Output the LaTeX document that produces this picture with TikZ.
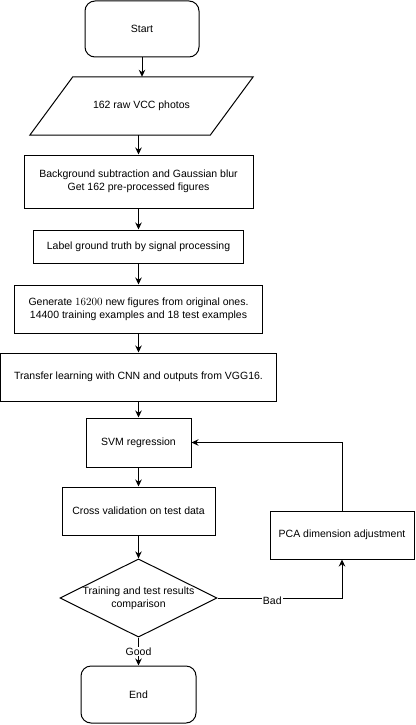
\documentclass[tikz,border=0pt]{standalone}
\usepackage[no-math]{fontspec}
\setmainfont{Liberation Sans}
\usetikzlibrary{arrows.meta,shapes.geometric}

\begin{document}
\begin{tikzpicture}[x=1pt,y=-1pt,
		every node/.style={font=\fontsize{10.5}{12.6}\selectfont, align=center, inner sep=0pt},
		box/.style={draw, rectangle, line width=1pt},
		term/.style={box, rounded corners=10pt, minimum width=114pt, minimum height=56pt},
		flow/.style={line width=1pt, -{Stealth[length=7pt,width=6.5pt]}}]%, show background rectangle]
	\useasboundingbox (0,0) rectangle (415,725);
	\node[term] (start) at (142,29) {Start};
	\node[minimum width=180pt, minimum height=58pt] (raw) at (141.5,106) {162 raw VCC photos};
	\draw[line width=1pt] ([xshift=21.5pt]raw.north west) -- ([xshift=21.5pt]raw.north east) -- ([xshift=-21.5pt]raw.south east) -- ([xshift=-21.5pt]raw.south west) -- cycle;
	\node[box, minimum width=229pt, minimum height=53pt] (bg) at (138.5,181.5) {Background subtraction and Gaussian blur\\Get 162 pre-processed figures};
	\node[box, minimum width=210pt, minimum height=33pt] (lbl) at (138.5,246.5) {Label ground truth by signal processing};
	\node[box, minimum width=248pt, minimum height=48pt] (gen) at (138.5,309) {Generate $16200$ new figures from original ones.\\14400 training examples and 18 test examples};
	\node[box, minimum width=276pt, minimum height=48pt] (tl) at (138.5,377) {Transfer learning with CNN and outputs from VGG16.};
	\node[box, minimum width=105pt, minimum height=49pt] (svm) at (138.5,442.5) {SVM regression};
	\node[box, minimum width=153pt, minimum height=48pt] (cv) at (138.5,511) {Cross validation on test data};
	\node[diamond, draw, line width=1pt, minimum width=157pt, minimum height=76pt, aspect=2] (cmp) at (138.5,598) {Training and test results\\comparison};
	\node[term, minimum width=115pt, minimum height=57pt] (end) at (138.5,694.5) {End};
	\node[box, minimum width=144pt, minimum height=48pt] (pca) at (342,535) {PCA dimension adjustment};
	% main flow
	\draw[flow] (start) -- (start |- raw.north);
	\draw[flow] (raw.south -| bg) -- (bg);
	\draw[flow] (bg) -- (lbl);
	\draw[flow] (lbl) -- (gen);
	\draw[flow] (gen) -- (tl);
	\draw[flow] (tl) -- (svm);
	\draw[flow] (svm) -- (cv);
	\draw[flow] (cv) -- (cmp);
	\draw[flow] (cmp) -- node[fill=white, inner sep=1pt] {Good} (end);
	% loop back
	\draw[flow] (cmp.east) -- node[pos=0.44, yshift=-3pt, fill=white, inner sep=1pt] {Bad} (cmp.east -| pca) -- (pca);
	\draw[flow] (pca) |- (svm);
\end{tikzpicture}
\end{document}
